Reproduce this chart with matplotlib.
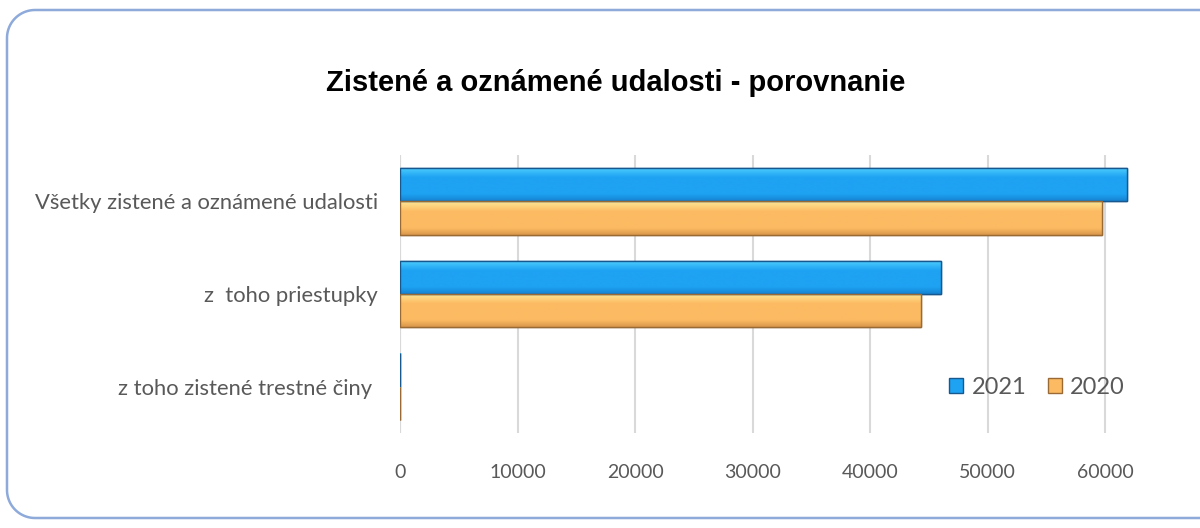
import numpy as np
import matplotlib
matplotlib.use('Agg')
import matplotlib.pyplot as plt
from matplotlib.patches import Rectangle
from matplotlib.lines import Line2D
from matplotlib.colors import to_rgb

# データ
categories = ['Všetky zistené a oznámené udalosti', 'z  toho priestupky', 'z toho zistené trestné činy ']
series_names = ['2021', '2020']
values_2021 = [61800, 46000, 15]
values_2020 = [59700, 44300, 12]
x_ticks = [0, 10000, 20000, 30000, 40000, 50000, 60000]

# 色（上・中・下のグラデーション）
grad_2021 = ['#4fd0ff', '#1ea2f2', '#1583d2']
grad_2020 = ['#ffe896', '#fcbb62', '#d9974c']
edge_2021 = '#17598f'
edge_2020 = '#9a6a35'
text_gray = '#595959'

plt.rcParams['font.family'] = ['Lato', 'DejaVu Sans']

W, H = 1200, 528
fig = plt.figure(figsize=(W / 100, H / 100), dpi=100)

# 角丸の枠（左側だけ、右は画像の外へ）
r = 28
x_l, y_t, y_b = 7, H - 10, H - 518
a1 = np.linspace(np.pi / 2, np.pi, 20)
a2 = np.linspace(np.pi, 1.5 * np.pi, 20)
fx = np.concatenate([[W + 10], x_l + r + r * np.cos(a1), x_l + r + r * np.cos(a2), [W + 10]])
fy = np.concatenate([[y_t], y_t - r + r * np.sin(a1), y_b + r + r * np.sin(a2), [y_b]])
fig.add_artist(Line2D(fx, fy, transform=None, color='#8eaadb', linewidth=1.8, clip_on=False))

fig.text(616 / W, 1 - 83 / H, 'Zistené a oznámené udalosti - porovnanie',
         ha='center', va='center', fontsize=21, fontweight='bold',
         family='Liberation Sans', color='black')

left, right, top, bottom = 400, 1223, 155, 433
ax = fig.add_axes([left / W, 1 - bottom / H, (right - left) / W, (bottom - top) / H])
ax.set_facecolor('none')
ax.set_zorder(2)

y = np.arange(len(categories))
h = 0.36


def gradient_bars(bars, cols, edge):
    c = np.array([to_rgb(k) for k in cols])
    t = np.linspace(0, 1, 60)
    rows = []
    for tt in t:
        if tt < 0.3:
            f = tt / 0.3
            rows.append(c[0] * (1 - f) + c[1] * f)
        elif tt < 0.8:
            rows.append(c[1])
        else:
            f = (tt - 0.8) / 0.2
            rows.append(c[1] * (1 - f) + c[2] * f)
    img = np.array(rows)[:, None, :]
    for b in bars:
        x0, y0, bw, bh = b.get_x(), b.get_y(), b.get_width(), b.get_height()
        im = ax.imshow(img, extent=(x0, x0 + bw, y0 + bh, y0), origin='upper',
                       aspect='auto', zorder=3, interpolation='bilinear')
        im.set_clip_path(b)
        b.set_edgecolor(edge)
        b.set_linewidth(1.0)


b1 = ax.barh(y - h / 2, values_2021, height=h, color=grad_2021[1], zorder=2, label=series_names[0])
b2 = ax.barh(y + h / 2, values_2020, height=h, color=grad_2020[1], zorder=2, label=series_names[1])
gradient_bars(b1, grad_2021, edge_2021)
gradient_bars(b2, grad_2020, edge_2020)
for b in list(b1) + list(b2):
    rect = Rectangle((b.get_x(), b.get_y()), b.get_width(), b.get_height(),
                     fill=False, edgecolor=b.get_edgecolor(), linewidth=1.0, zorder=4)
    ax.add_patch(rect)

ax.set_xlim(0, 70000)
ax.set_ylim(2.5, -0.5)
ax.set_xticks(x_ticks)
ax.set_xticklabels([str(v) for v in x_ticks])
ax.set_yticks(y)
ax.set_yticklabels(categories, fontsize=15.8)
ax.grid(axis='x', color='#d9d9d9', linewidth=1.5, zorder=0)
ax.set_axisbelow(True)
for s in ax.spines.values():
    s.set_visible(False)
ax.axvline(0, color='#d9d9d9', linewidth=1.5, zorder=1)
ax.tick_params(axis='both', length=0, labelcolor=text_gray)
ax.tick_params(axis='x', pad=22, labelsize=14)
ax.tick_params(axis='y', pad=16)

handles = [Rectangle((0, 0), 1, 1, facecolor=grad_2021[1], edgecolor=edge_2021),
           Rectangle((0, 0), 1, 1, facecolor=grad_2020[1], edgecolor=edge_2020)]
leg = fig.legend(handles, series_names, loc='center', bbox_to_anchor=(1037 / W, 1 - 387 / H),
                 ncol=2, frameon=False, fontsize=17, labelcolor=text_gray,
                 handlelength=0.6, handleheight=0.6, handletextpad=0.35, columnspacing=0.9)
leg.set_zorder(5)

fig.savefig('out.png', dpi=100)
